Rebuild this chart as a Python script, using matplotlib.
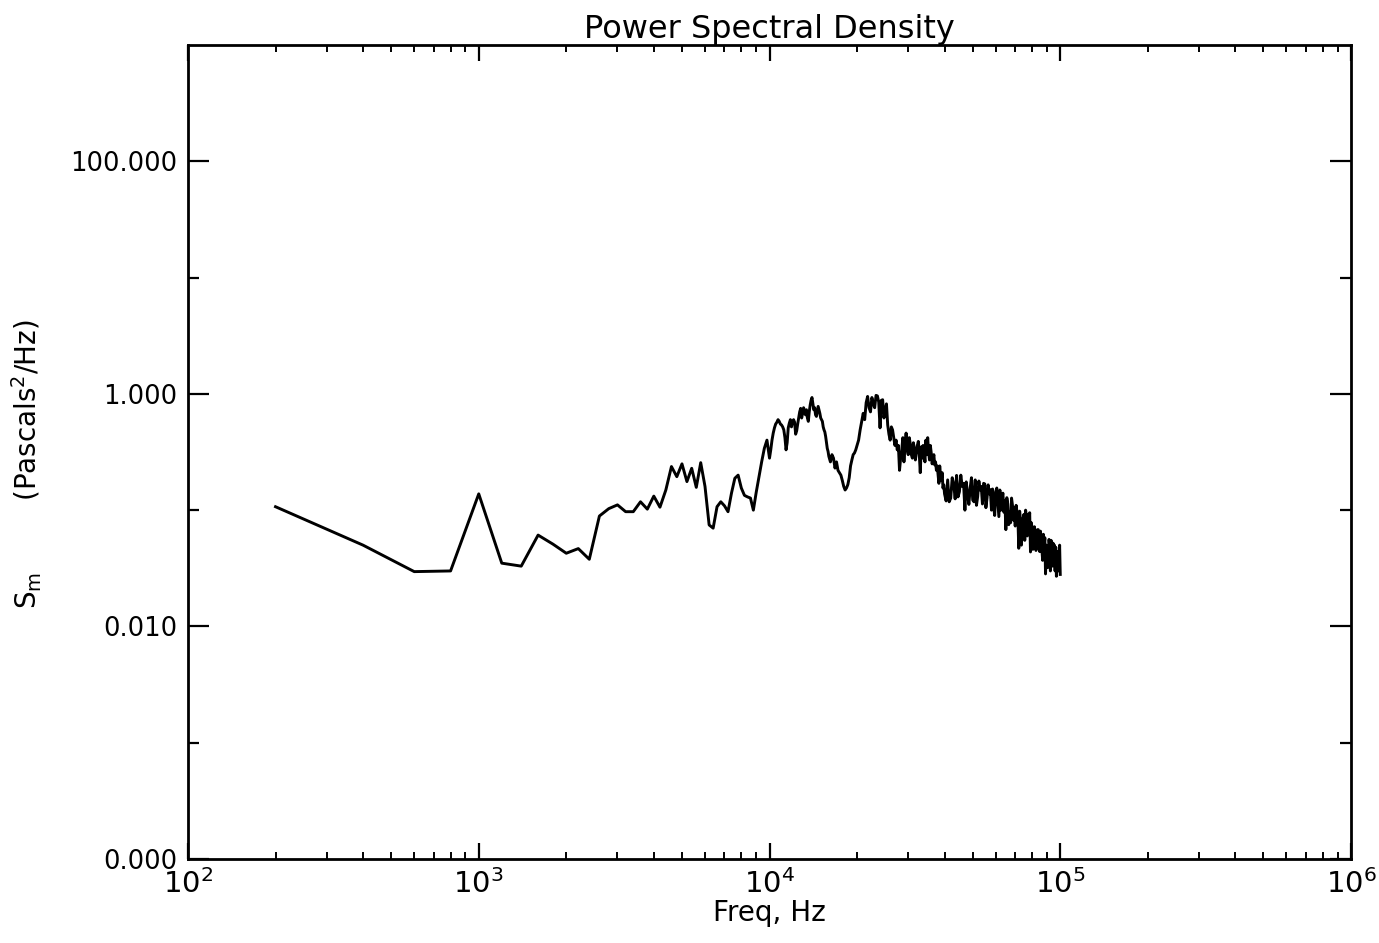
import matplotlib
matplotlib.use('Agg')
import matplotlib.pyplot as plt
from matplotlib.ticker import FixedLocator, FixedFormatter, NullFormatter

# ---- data ----
freq_low = [200, 400, 600, 800, 1000, 1200, 1400, 1600, 1800, 2000, 2200, 2400,
            2600, 2800, 3000, 3200, 3400, 3600, 3800, 4000, 4200, 4400, 4600,
            4800, 5000, 5200, 5400, 5600, 5800, 6000, 6200, 6400, 6600, 6800,
            7000, 7200, 7400, 7600, 7800, 8000, 8200, 8400, 8600, 8800, 9000,
            9200, 9400, 9600, 9800]
psd_low = [0.107, 0.050, 0.0296, 0.030, 0.138, 0.035, 0.033, 0.061, 0.051, 0.0426,
           0.0467, 0.0378, 0.089, 0.103, 0.111, 0.097, 0.097, 0.118, 0.102, 0.132,
           0.106, 0.149, 0.237, 0.194, 0.25, 0.176, 0.229, 0.157, 0.256, 0.16,
           0.0746, 0.070, 0.107, 0.118, 0.109, 0.097, 0.14, 0.188, 0.20, 0.155,
           0.134, 0.13, 0.127, 0.10, 0.142, 0.193, 0.261, 0.34, 0.40]

freq_mid = [10000, 10200, 10400, 10600, 10800, 11000, 11200, 11400, 11600, 11800,
            12000, 12200, 12400, 12600, 12800, 13000, 13200, 13400, 13600, 13800,
            14000, 14200, 14400, 14600, 14800, 15000, 15200, 15400, 15600, 15800,
            16000, 16200, 16400, 16600, 16800, 17000, 17200, 17400, 17600, 17800,
            18000, 18200, 18400, 18600, 18800, 19000, 19200, 19400, 19600, 19800,
            20000]
psd_mid = [0.28, 0.40, 0.51, 0.57, 0.58, 0.54, 0.49, 0.33, 0.51, 0.60,
           0.58, 0.57, 0.48, 0.62, 0.75, 0.68, 0.71, 0.73, 0.58, 0.80,
           0.93, 0.73, 0.66, 0.71, 0.73, 0.62, 0.58, 0.49, 0.43, 0.34,
           0.29, 0.26, 0.30, 0.28, 0.23, 0.26, 0.22, 0.21, 0.20, 0.18,
           0.16, 0.149, 0.155, 0.166, 0.19, 0.24, 0.27, 0.30, 0.31, 0.33,
           0.36]

freq_mid2 = [10100, 10300, 10500, 10700, 10900, 11100, 11300, 11500, 11700, 11900,
             12100, 12300, 12500, 12700, 12900, 13100, 13300, 13500, 13700, 13900,
             14100, 14300, 14500, 14700, 14900, 15100, 15300, 15500, 15700, 15900]
psd_mid2 = [0.33, 0.46, 0.55, 0.60, 0.55, 0.52, 0.42, 0.38, 0.56, 0.52,
            0.60, 0.45, 0.55, 0.70, 0.62, 0.76, 0.66, 0.62, 0.70, 0.88,
            0.82, 0.76, 0.64, 0.78, 0.68, 0.60, 0.52, 0.47, 0.38, 0.32]

freq_hi1 = [20500, 21000, 21500, 22000, 22500, 23000, 23500, 24000, 24500, 25000,
            25500, 26000, 26500, 27000, 27500, 28000, 28500, 29000, 29500, 30000,
            30500, 31000, 31500, 32000, 32500, 33000, 33500, 34000, 34500, 35000,
            35500, 36000, 36500, 37000, 37500, 38000, 38500, 39000, 39500, 40000]
psd_hi1 = [0.49, 0.68, 0.84, 0.76, 0.93, 0.76, 0.96, 0.51, 0.89, 0.73,
           0.54, 0.40, 0.49, 0.36, 0.33, 0.22, 0.33, 0.26, 0.46, 0.30,
           0.37, 0.28, 0.34, 0.31, 0.39, 0.21, 0.28, 0.31, 0.40, 0.42,
           0.27, 0.31, 0.27, 0.245, 0.22, 0.20, 0.24, 0.18, 0.155, 0.138]

freq_hi1b = [20250, 20750, 21250, 21750, 22250, 22750, 23250, 23750, 24250, 24750,
             25250, 25750, 26250, 26750, 27250, 27750, 28250, 28750, 29250, 29750,
             30250, 30750, 31250, 31750, 32250, 32750, 33250, 33750, 34250, 34750,
             35250, 35750, 36250, 36750, 37250, 37750, 38250, 38750, 39250, 39750]
psd_hi1b = [0.40, 0.58, 0.60, 0.95, 0.70, 0.82, 0.97, 0.85, 0.88, 0.62,
            0.82, 0.45, 0.52, 0.42, 0.40, 0.36, 0.28, 0.42, 0.36, 0.33,
            0.42, 0.30, 0.38, 0.27, 0.36, 0.30, 0.35, 0.36, 0.26, 0.30,
            0.32, 0.36, 0.25, 0.30, 0.26, 0.24, 0.17, 0.20, 0.21, 0.165]

freq_hi2 = [41000, 42000, 43000, 44000, 45000, 46000, 47000, 48000, 49000, 50000,
            51000, 52000, 53000, 54000, 55000, 56000, 57000, 58000, 59000, 60000,
            61000, 62000, 63000, 64000, 65000, 66000, 67000, 68000, 69000, 70000,
            71000, 72000, 73000, 74000, 75000, 76000, 77000, 78000, 79000, 80000,
            81000, 82000, 83000, 84000, 85000, 86000, 87000, 88000, 89000, 90000,
            91000, 92000, 93000, 94000, 95000, 96000, 97000, 98000, 99000, 100000]
psd_hi2 = [0.182, 0.127, 0.168, 0.199, 0.144, 0.16, 0.100, 0.138, 0.155, 0.122,
           0.182, 0.131, 0.149, 0.113, 0.168, 0.127, 0.138, 0.100, 0.108, 0.144,
           0.118, 0.149, 0.127, 0.096, 0.068, 0.113, 0.096, 0.127, 0.082, 0.073,
           0.096, 0.047, 0.082, 0.068, 0.092, 0.100, 0.060, 0.076, 0.0437, 0.070,
           0.055, 0.062, 0.049, 0.068, 0.044, 0.055, 0.037, 0.047, 0.0283, 0.044,
           0.037, 0.047, 0.055, 0.033, 0.041, 0.030, 0.027, 0.044, 0.032, 0.028]

freq_hi2b = [40500, 41500, 42500, 43500, 44500, 45500, 46500, 47500, 48500, 49500,
             50500, 51500, 52500, 53500, 54500, 55500, 56500, 57500, 58500, 59500,
             60500, 61500, 62500, 63500, 64500, 65500, 66500, 67500, 68500, 69500,
             70500, 71500, 72500, 73500, 74500, 75500, 76500, 77500, 78500, 79500,
             80500, 81500, 82500, 83500, 84500, 85500, 86500, 87500, 88500, 89500,
             90500, 91500, 92500, 93500, 94500, 95500, 96500, 97500, 98500, 99500]
psd_hi2b = [0.120, 0.118, 0.19, 0.125, 0.13, 0.20, 0.17, 0.175, 0.112, 0.19,
            0.118, 0.11, 0.178, 0.16, 0.17, 0.105, 0.165, 0.15, 0.152, 0.09,
            0.155, 0.088, 0.10, 0.14, 0.12, 0.128, 0.075, 0.078, 0.11, 0.105,
            0.11, 0.085, 0.098, 0.05, 0.085, 0.055, 0.088, 0.092, 0.095, 0.078,
            0.046, 0.072, 0.045, 0.068, 0.064, 0.066, 0.045, 0.062, 0.058, 0.05,
            0.032, 0.056, 0.03, 0.04, 0.052, 0.05, 0.048, 0.038, 0.03, 0.05]

x_major = [1e2, 1e3, 1e4, 1e5, 1e6]
x_labels = [r'$\mathregular{10^{2}}$', r'$\mathregular{10^{3}}$', r'$\mathregular{10^{4}}$',
            r'$\mathregular{10^{5}}$', r'$\mathregular{10^{6}}$']
y_major = [1e-4, 1e-2, 1e0, 1e2]
y_labels = ['0.000', '0.010', '1.000', '100.000']
y_minor = [1e-3, 1e-1, 1e1]

pairs = sorted(zip(freq_low + freq_mid + freq_mid2 + freq_hi1 + freq_hi1b + freq_hi2 + freq_hi2b,
                   psd_low + psd_mid + psd_mid2 + psd_hi1 + psd_hi1b + psd_hi2 + psd_hi2b))
freq = [p[0] for p in pairs]
psd = [p[1] for p in pairs]

# ---- figure ----
W, H = 1379, 943
fig = plt.figure(figsize=(W / 100, H / 100), dpi=100)
ax = fig.add_axes([188 / W, 1 - 859 / H, (1351 - 188) / W, (859 - 45) / H])

ax.plot(freq, psd, color='black', lw=2.1)
ax.set_xscale('log')
ax.set_yscale('log')
ax.set_xlim(1e2, 1e6)
ax.set_ylim(1e-4, 1e3)

x_minor = [k * d for d in [1e2, 1e3, 1e4, 1e5] for k in range(2, 10)]
ax.xaxis.set_major_locator(FixedLocator(x_major))
ax.xaxis.set_major_formatter(FixedFormatter(x_labels))
ax.xaxis.set_minor_locator(FixedLocator(x_minor))
ax.xaxis.set_minor_formatter(NullFormatter())
ax.yaxis.set_major_locator(FixedLocator(y_major))
ax.yaxis.set_major_formatter(FixedFormatter(y_labels))
ax.yaxis.set_minor_locator(FixedLocator(y_minor))
ax.yaxis.set_minor_formatter(NullFormatter())

ax.tick_params(which='both', direction='in', top=True, right=True, colors='black')
ax.xaxis.set_tick_params(which='major', length=11.5, width=1.6, labelsize=21, pad=7)
ax.xaxis.set_tick_params(which='minor', length=5, width=1.4)
ax.yaxis.set_tick_params(which='major', length=15, width=1.6, labelsize=18.5, pad=8)
ax.yaxis.set_tick_params(which='minor', length=8, width=1.6)

for s in ax.spines.values():
    s.set_linewidth(2.0)

ax.set_title('Power Spectral Density', fontsize=23, pad=5)
ax.set_xlabel('Freq, Hz', fontsize=20, labelpad=0)
ax.set_ylabel(r'S$_\mathregular{m}$        (Pascals$^\mathregular{2}$/Hz)', fontsize=20)
ax.yaxis.set_label_coords(-0.124, 0.485)

fig.savefig('out.png', dpi=100)
